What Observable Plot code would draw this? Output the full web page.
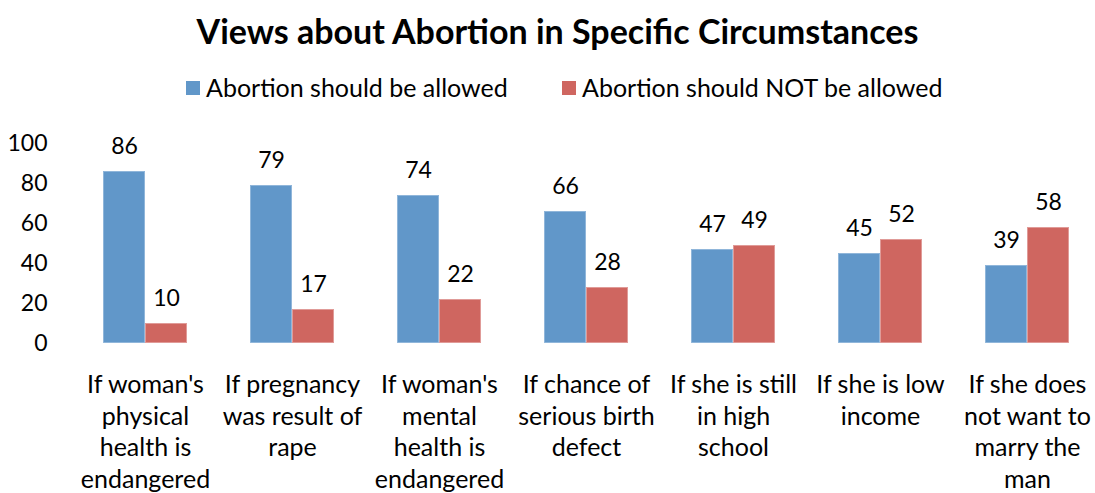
<!DOCTYPE html>
<html>
<head>
<meta charset="utf-8">
<script src="https://cdn.jsdelivr.net/npm/d3@7"></script>
<script src="https://cdn.jsdelivr.net/npm/@observablehq/plot@0.6"></script>
<style>
  body { margin: 0; background: #fff; font-family: Lato, "Open Sans", sans-serif; }
  #wrap { position: relative; width: 1095px; height: 493px; }
  #title { position: absolute; left: 10px; width: 1095px; top: 10px; text-align: center; font-weight: bold; font-size: 34px; color: #000; }
  .leg { position: absolute; top: 72px; font-size: 25px; color: #000; white-space: nowrap; }
  .sw { display: inline-block; width: 14px; height: 14px; margin-right: 6px; vertical-align: 2px; }
  svg { position: absolute; left: 0; top: 0; }
</style>
</head>
<body>
<div id="wrap">
  <div id="title">Views about Abortion in Specific Circumstances</div>
  <div class="leg" style="left:186px"><span class="sw" style="background:#6197c9"></span>Abortion should be allowed</div>
  <div class="leg" style="left:562px"><span class="sw" style="background:#cf6660"></span>Abortion should NOT be allowed</div>
</div>
<script>
const categories = [
  "If woman's\nphysical\nhealth is\nendangered",
  "If pregnancy\nwas result of\nrape",
  "If woman's\nmental\nhealth is\nendangered",
  "If chance of\nserious birth\ndefect",
  "If she is still\nin high\nschool",
  "If she is low\nincome",
  "If she does\nnot want to\nmarry the\nman"
];
const seriesNames = ["Abortion should be allowed", "Abortion should NOT be allowed"];
const allowed = [86, 79, 74, 66, 47, 45, 39];
const notAllowed = [10, 17, 22, 28, 49, 52, 58];
const yTicks = [0, 20, 40, 60, 80, 100];
const colors = ["#6197c9", "#cf6660"];
const strokes = ["#8cb3d9", "#e09a96"];

const data = [];
categories.forEach((c, i) => {
  data.push({category: c, series: seriesNames[0], value: allowed[i]});
  data.push({category: c, series: seriesNames[1], value: notAllowed[i]});
});

const chart = Plot.plot({
  width: 1095,
  height: 493,
  marginTop: 143,
  marginBottom: 150,
  marginLeft: 78,
  marginRight: 0,
  style: {fontFamily: "Lato, 'Open Sans', sans-serif", fontSize: "22px", color: "#000", background: "transparent"},
  fx: {domain: categories, paddingInner: 0.428, paddingOuter: 0.17, label: null},
  x: {domain: seriesNames, padding: 0, axis: null},
  y: {domain: [0, 100], axis: null},
  color: {domain: seriesNames, range: colors},
  marks: [
    Plot.barY(data, {fx: "category", x: "series", y: "value", fill: "series", stroke: d => strokes[seriesNames.indexOf(d.series)], strokeWidth: 0.8, inset: 0.4}),
    Plot.text(data, {fx: "category", x: "series", y: "value", text: d => String(d.value), lineAnchor: "middle", dy: -25, fontSize: 23, fill: "#000"}),
    Plot.axisY(yTicks, {anchor: "left", tickSize: 0, tickPadding: 56, fontSize: 23, label: null, facetAnchor: "left", textAnchor: "end"}),
    Plot.axisFx({anchor: "bottom", tickSize: 0, tickPadding: 27, fontSize: 25, lineHeight: 1.265, label: null})
  ]
});
document.getElementById("wrap").appendChild(chart);
</script>
</body>
</html>
